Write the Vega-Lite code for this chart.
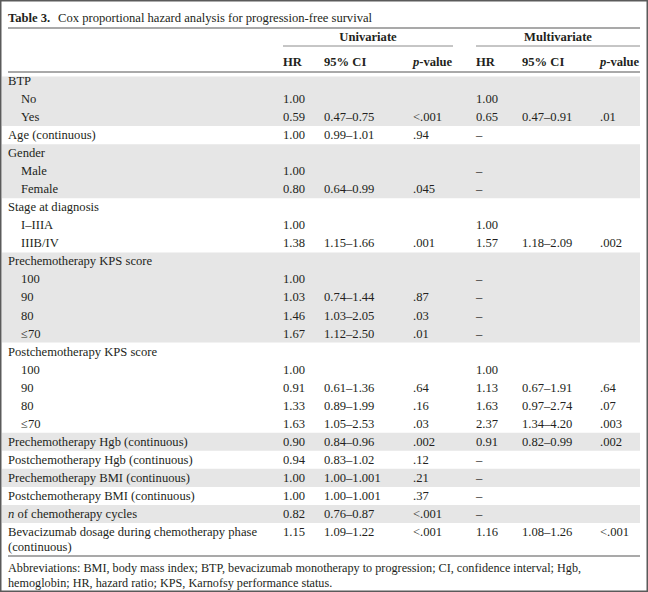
{
  "$schema": "https://vega.github.io/schema/vega-lite/v6.json",
  "width": 648,
  "height": 592,
  "padding": 0,
  "autosize": {"type": "none"},
  "background": "white",
  "config": {
    "view": {"stroke": "#5a5a5a", "strokeWidth": 3},
    "text": {"font": "Liberation Serif", "fontSize": 12.6, "color": "#231f20", "baseline": "middle", "align": "left"}
  },
  "datasets": {
    "bands": [
      {"a": 5.5, "b": 8.5},
      {"a": 9.5, "b": 12.5},
      {"a": 15.5, "b": 20.5},
      {"a": 25.5, "b": 26.5},
      {"a": 27.5, "b": 28.5},
      {"a": 29.5, "b": 30.5}
    ],
    "fullRules": [{"r": 1}, {"r": 5}, {"r": 33}],
    "groupRules": [{"r": 3, "a": 4, "b": 9}, {"r": 3, "a": 10, "b": 14}],
    "regular": [
      {"r": 0, "c": 3, "t": "Cox proportional hazard analysis for progression-free survival"},
      {"r": 6, "c": 1, "t": "BTP"},
      {"r": 7, "c": 2, "t": "No"}, {"r": 7, "c": 5, "t": "1.00"}, {"r": 7, "c": 10, "t": "1.00"},
      {"r": 8, "c": 2, "t": "Yes"}, {"r": 8, "c": 5, "t": "0.59"}, {"r": 8, "c": 6, "t": "0.47–0.75"}, {"r": 8, "c": 8, "t": "<.001"}, {"r": 8, "c": 10, "t": "0.65"}, {"r": 8, "c": 11, "t": "0.47–0.91"}, {"r": 8, "c": 13, "t": ".01"},
      {"r": 9, "c": 1, "t": "Age (continuous)"}, {"r": 9, "c": 5, "t": "1.00"}, {"r": 9, "c": 6, "t": "0.99–1.01"}, {"r": 9, "c": 8, "t": ".94"}, {"r": 9, "c": 10, "t": "–"},
      {"r": 10, "c": 1, "t": "Gender"},
      {"r": 11, "c": 2, "t": "Male"}, {"r": 11, "c": 5, "t": "1.00"}, {"r": 11, "c": 10, "t": "–"},
      {"r": 12, "c": 2, "t": "Female"}, {"r": 12, "c": 5, "t": "0.80"}, {"r": 12, "c": 6, "t": "0.64–0.99"}, {"r": 12, "c": 8, "t": ".045"}, {"r": 12, "c": 10, "t": "–"},
      {"r": 13, "c": 1, "t": "Stage at diagnosis"},
      {"r": 14, "c": 2, "t": "I–IIIA"}, {"r": 14, "c": 5, "t": "1.00"}, {"r": 14, "c": 10, "t": "1.00"},
      {"r": 15, "c": 2, "t": "IIIB/IV"}, {"r": 15, "c": 5, "t": "1.38"}, {"r": 15, "c": 6, "t": "1.15–1.66"}, {"r": 15, "c": 8, "t": ".001"}, {"r": 15, "c": 10, "t": "1.57"}, {"r": 15, "c": 11, "t": "1.18–2.09"}, {"r": 15, "c": 13, "t": ".002"},
      {"r": 16, "c": 1, "t": "Prechemotherapy KPS score"},
      {"r": 17, "c": 2, "t": "100"}, {"r": 17, "c": 5, "t": "1.00"}, {"r": 17, "c": 10, "t": "–"},
      {"r": 18, "c": 2, "t": "90"}, {"r": 18, "c": 5, "t": "1.03"}, {"r": 18, "c": 6, "t": "0.74–1.44"}, {"r": 18, "c": 8, "t": ".87"}, {"r": 18, "c": 10, "t": "–"},
      {"r": 19, "c": 2, "t": "80"}, {"r": 19, "c": 5, "t": "1.46"}, {"r": 19, "c": 6, "t": "1.03–2.05"}, {"r": 19, "c": 8, "t": ".03"}, {"r": 19, "c": 10, "t": "–"},
      {"r": 20, "c": 2, "t": "≤70"}, {"r": 20, "c": 5, "t": "1.67"}, {"r": 20, "c": 6, "t": "1.12–2.50"}, {"r": 20, "c": 8, "t": ".01"}, {"r": 20, "c": 10, "t": "–"},
      {"r": 21, "c": 1, "t": "Postchemotherapy KPS score"},
      {"r": 22, "c": 2, "t": "100"}, {"r": 22, "c": 5, "t": "1.00"}, {"r": 22, "c": 10, "t": "1.00"},
      {"r": 23, "c": 2, "t": "90"}, {"r": 23, "c": 5, "t": "0.91"}, {"r": 23, "c": 6, "t": "0.61–1.36"}, {"r": 23, "c": 8, "t": ".64"}, {"r": 23, "c": 10, "t": "1.13"}, {"r": 23, "c": 11, "t": "0.67–1.91"}, {"r": 23, "c": 13, "t": ".64"},
      {"r": 24, "c": 2, "t": "80"}, {"r": 24, "c": 5, "t": "1.33"}, {"r": 24, "c": 6, "t": "0.89–1.99"}, {"r": 24, "c": 8, "t": ".16"}, {"r": 24, "c": 10, "t": "1.63"}, {"r": 24, "c": 11, "t": "0.97–2.74"}, {"r": 24, "c": 13, "t": ".07"},
      {"r": 25, "c": 2, "t": "≤70"}, {"r": 25, "c": 5, "t": "1.63"}, {"r": 25, "c": 6, "t": "1.05–2.53"}, {"r": 25, "c": 8, "t": ".03"}, {"r": 25, "c": 10, "t": "2.37"}, {"r": 25, "c": 11, "t": "1.34–4.20"}, {"r": 25, "c": 13, "t": ".003"},
      {"r": 26, "c": 1, "t": "Prechemotherapy Hgb (continuous)"}, {"r": 26, "c": 5, "t": "0.90"}, {"r": 26, "c": 6, "t": "0.84–0.96"}, {"r": 26, "c": 8, "t": ".002"}, {"r": 26, "c": 10, "t": "0.91"}, {"r": 26, "c": 11, "t": "0.82–0.99"}, {"r": 26, "c": 13, "t": ".002"},
      {"r": 27, "c": 1, "t": "Postchemotherapy Hgb (continuous)"}, {"r": 27, "c": 5, "t": "0.94"}, {"r": 27, "c": 6, "t": "0.83–1.02"}, {"r": 27, "c": 8, "t": ".12"}, {"r": 27, "c": 10, "t": "–"},
      {"r": 28, "c": 1, "t": "Prechemotherapy BMI (continuous)"}, {"r": 28, "c": 5, "t": "1.00"}, {"r": 28, "c": 6, "t": "1.00–1.001"}, {"r": 28, "c": 8, "t": ".21"}, {"r": 28, "c": 10, "t": "–"},
      {"r": 29, "c": 1, "t": "Postchemotherapy BMI (continuous)"}, {"r": 29, "c": 5, "t": "1.00"}, {"r": 29, "c": 6, "t": "1.00–1.001"}, {"r": 29, "c": 8, "t": ".37"}, {"r": 29, "c": 10, "t": "–"},
      {"r": 30, "c": 5, "t": "0.82"}, {"r": 30, "c": 6, "t": "0.76–0.87"}, {"r": 30, "c": 8, "t": "<.001"}, {"r": 30, "c": 10, "t": "–"},
      {"r": 31, "c": 1, "t": "Bevacizumab dosage during chemotherapy phase"}, {"r": 31, "c": 5, "t": "1.15"}, {"r": 31, "c": 6, "t": "1.09–1.22"}, {"r": 31, "c": 8, "t": "<.001"}, {"r": 31, "c": 10, "t": "1.16"}, {"r": 31, "c": 11, "t": "1.08–1.26"}, {"r": 31, "c": 13, "t": "<.001"},
      {"r": 32, "c": 1, "t": "(continuous)"}
    ],
    "note": [
      {"r": 34, "c": 1, "t": "Abbreviations: BMI, body mass index; BTP, bevacizumab monotherapy to progression; CI, confidence interval; Hgb,"},
      {"r": 35, "c": 1, "t": "hemoglobin; HR, hazard ratio; KPS, Karnofsy performance status."}
    ],
    "bold": [
      {"r": 0, "c": 1, "t": "Table 3."},
      {"r": 4, "c": 5, "t": "HR"}, {"r": 4, "c": 6, "t": "95% CI"},
      {"r": 4, "c": 10, "t": "HR"}, {"r": 4, "c": 11, "t": "95% CI"}
    ],
    "boldCenter": [
      {"r": 2, "c": 7, "t": "Univariate"}, {"r": 2, "c": 12, "t": "Multivariate"}
    ],
    "boldItalic": [{"r": 4, "c": 8, "t": "p"}, {"r": 4, "c": 13, "t": "p"}],
    "boldSuffix": [{"r": 4, "c": 8, "t": "-value"}, {"r": 4, "c": 13, "t": "-value"}],
    "italic": [{"r": 30, "c": 1, "t": "n"}],
    "regularSuffix": [{"r": 30, "c": 1, "t": "of chemotherapy cycles"}]
  },
  "layer": [
    {
      "data": {"name": "bands"},
      "mark": {"type": "rect", "color": "#e6e6e6"},
      "encoding": {
        "x": {"datum": 0, "type": "quantitative", "scale": {"domain": [0, 1, 2, 3, 4, 5, 6, 7, 8, 9, 10, 11, 12, 13, 14], "range": [2, 8, 21, 58, 283, 283, 324, 368, 413, 453, 476, 522, 558, 600, 640]}, "axis": null},
        "x2": {"datum": 14},
        "y": {"field": "a", "type": "quantitative", "scale": {"domain": [0, 1, 2, 3, 4, 5, 6, 31, 32, 33, 34, 35], "range": [18, 28, 37, 46, 62, 72, 81, 532, 547, 556, 568, 583]}, "axis": null},
        "y2": {"field": "b"}
      }
    },
    {
      "data": {"name": "fullRules"},
      "mark": {"type": "rule", "color": "#8c8c8c", "strokeWidth": 1.5},
      "encoding": {
        "x": {"datum": 1, "type": "quantitative"},
        "x2": {"datum": 14},
        "y": {"field": "r", "type": "quantitative"}
      }
    },
    {
      "data": {"name": "groupRules"},
      "mark": {"type": "rule", "color": "#8c8c8c", "strokeWidth": 1},
      "encoding": {
        "x": {"field": "a", "type": "quantitative"},
        "x2": {"field": "b"},
        "y": {"field": "r", "type": "quantitative"}
      }
    },
    {
      "data": {"name": "regular"},
      "mark": {"type": "text"},
      "encoding": {
        "x": {"field": "c", "type": "quantitative"},
        "y": {"field": "r", "type": "quantitative"},
        "text": {"field": "t"}
      }
    },
    {
      "data": {"name": "note"},
      "mark": {"type": "text", "fontSize": 12.2},
      "encoding": {
        "x": {"field": "c", "type": "quantitative"},
        "y": {"field": "r", "type": "quantitative"},
        "text": {"field": "t"}
      }
    },
    {
      "data": {"name": "bold"},
      "mark": {"type": "text", "fontWeight": "bold"},
      "encoding": {
        "x": {"field": "c", "type": "quantitative"},
        "y": {"field": "r", "type": "quantitative"},
        "text": {"field": "t"}
      }
    },
    {
      "data": {"name": "boldCenter"},
      "mark": {"type": "text", "fontWeight": "bold", "align": "center"},
      "encoding": {
        "x": {"field": "c", "type": "quantitative"},
        "y": {"field": "r", "type": "quantitative"},
        "text": {"field": "t"}
      }
    },
    {
      "data": {"name": "boldItalic"},
      "mark": {"type": "text", "fontWeight": "bold", "fontStyle": "italic"},
      "encoding": {
        "x": {"field": "c", "type": "quantitative"},
        "y": {"field": "r", "type": "quantitative"},
        "text": {"field": "t"}
      }
    },
    {
      "data": {"name": "boldSuffix"},
      "mark": {"type": "text", "fontWeight": "bold", "dx": 6.3},
      "encoding": {
        "x": {"field": "c", "type": "quantitative"},
        "y": {"field": "r", "type": "quantitative"},
        "text": {"field": "t"}
      }
    },
    {
      "data": {"name": "italic"},
      "mark": {"type": "text", "fontStyle": "italic"},
      "encoding": {
        "x": {"field": "c", "type": "quantitative"},
        "y": {"field": "r", "type": "quantitative"},
        "text": {"field": "t"}
      }
    },
    {
      "data": {"name": "regularSuffix"},
      "mark": {"type": "text", "dx": 9.45},
      "encoding": {
        "x": {"field": "c", "type": "quantitative"},
        "y": {"field": "r", "type": "quantitative"},
        "text": {"field": "t"}
      }
    }
  ]
}
